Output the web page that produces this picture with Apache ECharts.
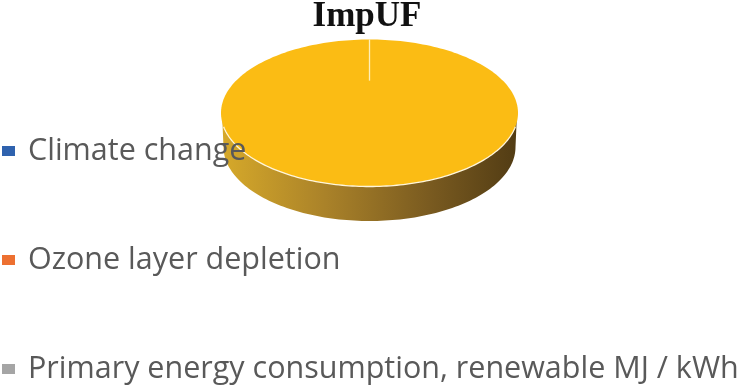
<!DOCTYPE html>
<html>
<head>
<meta charset="utf-8">
<style>html,body{margin:0;padding:0;background:#fff}#c{width:755px;height:387px}</style>
<script src="https://cdn.jsdelivr.net/npm/echarts@6/dist/echarts.min.js"></script>
</head>
<body>
<div id="c"></div>
<script>
const titleText = 'ImpUF';
const categories = ['Climate change', 'Ozone layer depletion', 'Primary energy consumption, renewable MJ / kWh', 'Other impacts'];
const legendCategories = categories.slice(0, 3);
const values = [0, 0, 0, 100];
const colors = ['#2f62ae', '#ed7031', '#a5a5a5', '#fbbc14'];

const pieShape = { cx: 369.5, cy: 113, rx: 148.5, ry: 73.5, sideRx: 146, sideRy: 74, sideCy: 147, seam: 0.44 };
const total = values.reduce((a, b) => a + b, 0);

function ellipsePoint(cx, cy, rx, ry, a) {
  return [cx + rx * Math.sin(a), cy - ry * Math.cos(a)];
}
function makeRenderItem(idx) {
  return function () {
    const v = values[idx];
    if (!v) return null;
    const s = pieShape;
    const before = values.slice(0, idx).reduce((a, b) => a + b, 0);
    const a0 = before / total * 2 * Math.PI;
    const a1 = (before + v) / total * 2 * Math.PI;
    const steps = 240;
    const rim = [];
    for (let i = 0; i <= steps; i++) {
      rim.push(ellipsePoint(s.cx, s.cy, s.rx, s.ry, a0 + (a1 - a0) * i / steps));
    }
    const wall = [[s.cx - s.rx + 1, s.cy], [s.cx + s.rx - 1, s.cy]];
    for (let i = 0; i <= 120; i++) {
      const a = Math.PI / 2 + Math.PI * i / 120;
      wall.push([s.cx + s.sideRx * Math.sin(a), s.sideCy - s.sideRy * Math.cos(a)]);
    }
    const front = [];
    for (let i = 0; i <= 120; i++) {
      const a = Math.PI * 0.56 + Math.PI * 0.88 * i / 120;
      front.push(ellipsePoint(s.cx, s.cy, s.rx, s.ry, a));
    }
    return {
      type: 'group',
      children: [
        { type: 'polygon', shape: { points: wall },
          style: { fill: new echarts.graphic.LinearGradient(0, 0, 1, 0, [
            { offset: 0, color: '#d6a92a' },
            { offset: 0.35, color: '#aa8229' },
            { offset: 0.7, color: '#7a5b20' },
            { offset: 1, color: '#523c14' }
          ]) } },
        { type: 'polygon', shape: { points: rim }, style: { fill: colors[idx] } },
        { type: 'polyline', shape: { points: front }, style: { fill: 'none', stroke: '#fff6dc', lineWidth: 1.3 } },
        { type: 'line', shape: { x1: s.cx, y1: s.cy - s.ry, x2: s.cx, y2: s.cy - s.ry * s.seam },
          style: { stroke: '#ffeeb8', lineWidth: 1.3 } }
      ]
    };
  };
}

const chart = echarts.init(document.getElementById('c'), null, { renderer: 'canvas' });
chart.setOption({
  animation: false,
  backgroundColor: '#fff',
  title: {
    text: titleText, left: 362, top: -6, textAlign: 'center',
    textStyle: { fontFamily: 'Liberation Serif', fontWeight: 'bold', fontSize: 35, color: '#111' }
  },
  legend: {
    data: legendCategories.map(n => ({ name: n, icon: 'rect' })),
    orient: 'vertical', left: 2, top: 131, width: 753, height: 320, itemWidth: 13, itemHeight: 10, itemGap: 69,
    selectedMode: false, padding: 0,
    textStyle: { fontFamily: 'Open Sans', fontSize: 30.5, color: '#595959', padding: [0, 0, 0, 8], height: 40, lineHeight: 40 }
  },
  series: categories.map((name, i) => ({
    type: 'custom', name, coordinateSystem: 'none', silent: true,
    itemStyle: { color: colors[i] },
    data: [values[i]],
    renderItem: makeRenderItem(i)
  }))
});
</script>
</body>
</html>
